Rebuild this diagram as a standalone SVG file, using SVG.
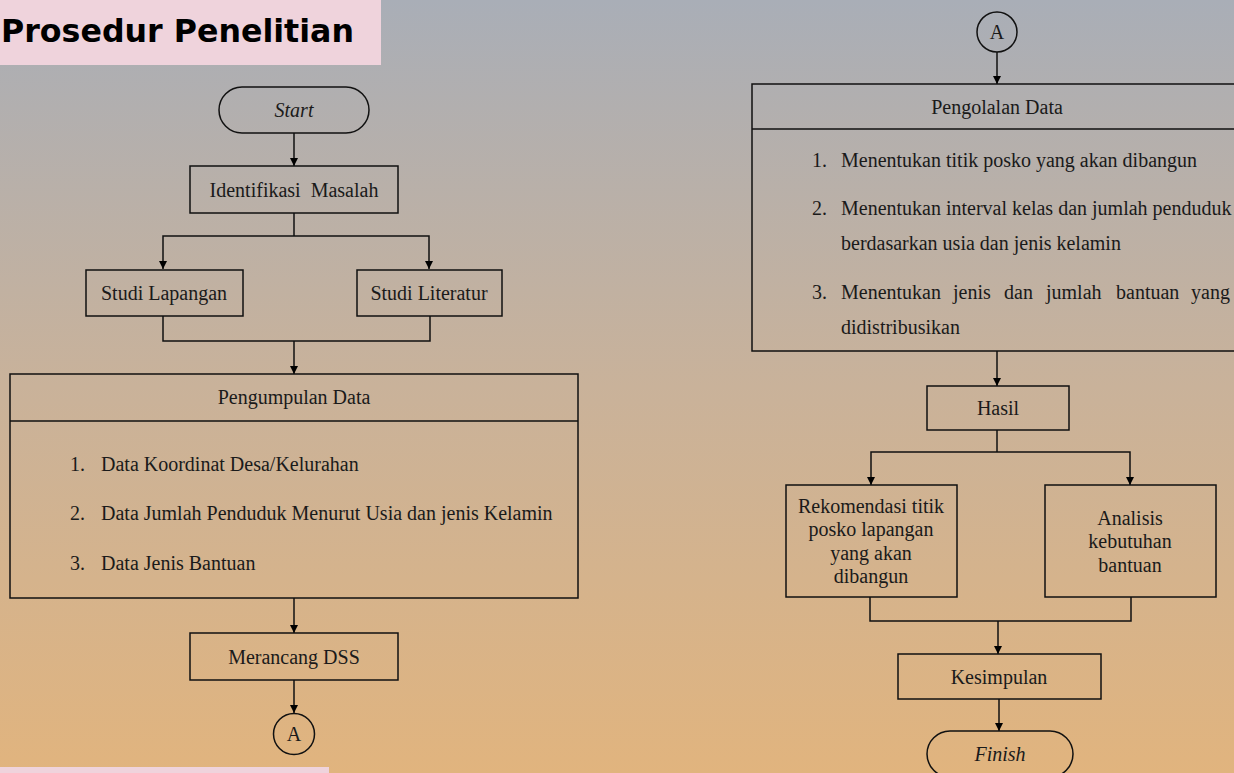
<svg xmlns="http://www.w3.org/2000/svg" width="1234" height="773" viewBox="0 0 1234 773">
<defs>
<linearGradient id="bg" x1="0" y1="0" x2="0" y2="1">
<stop offset="0" stop-color="#a9aeb7"/>
<stop offset="0.5" stop-color="#c9b29a"/>
<stop offset="1" stop-color="#e1b47e"/>
</linearGradient>
<marker id="ah" viewBox="0 0 10 10" refX="10" refY="5" markerWidth="8" markerHeight="8" markerUnits="userSpaceOnUse" orient="auto">
<path d="M0,0 L10,5 L0,10 Z" fill="#000"/>
</marker>
<style>
.box{fill:none;stroke:#111;stroke-width:1.5}
.t{font-family:"Liberation Serif","Times New Roman",serif;font-size:20px;fill:#1a1a1a}
.c{text-anchor:middle}
.i{font-style:italic}
.ln{fill:none;stroke:#111;stroke-width:1.5}
.ar{fill:none;stroke:#111;stroke-width:1.5;marker-end:url(#ah)}
</style>
</defs>
<rect x="0" y="0" width="1234" height="773" fill="url(#bg)"/>
<g id="title">
<rect x="0" y="0" width="381" height="65" fill="#efd3dc"/>
<text x="1" y="42" font-family="'DejaVu Sans',Tahoma,sans-serif" font-weight="bold" font-size="32" fill="#000" textLength="353" lengthAdjust="spacingAndGlyphs">Prosedur Penelitian</text>
</g>
<rect x="0" y="767" width="329" height="6" fill="#efd3dc"/>

<g id="connectors">
<line class="ar" x1="294" y1="133" x2="294" y2="166"/>
<polyline class="ln" points="294,213 294,236"/>
<polyline class="ar" points="294,236 163,236 163,269"/>
<polyline class="ar" points="294,236 429,236 429,269"/>
<polyline class="ln" points="163,316 163,341 430,341 430,316"/>
<line class="ar" x1="294" y1="341" x2="294" y2="374"/>
<line class="ar" x1="294" y1="598" x2="294" y2="633"/>
<line class="ar" x1="294" y1="680" x2="294" y2="713"/>
<line class="ar" x1="997" y1="52" x2="997" y2="84"/>
<line class="ar" x1="997" y1="351" x2="997" y2="386"/>
<polyline class="ln" points="997,430 997,452"/>
<polyline class="ar" points="997,452 871,452 871,485"/>
<polyline class="ar" points="997,452 1130,452 1130,485"/>
<polyline class="ln" points="870,597 870,621 1131,621 1131,597"/>
<line class="ar" x1="998" y1="621" x2="998" y2="654"/>
<line class="ar" x1="999" y1="699" x2="999" y2="731"/>
</g>

<g id="start">
<rect class="box" x="219" y="87" width="150" height="46" rx="23"/>
<text class="t c i" x="294" y="117">Start</text>
</g>
<g id="identifikasi">
<rect class="box" x="190" y="166" width="208" height="47"/>
<text class="t c" x="294" y="197" style="white-space:pre">Identifikasi  Masalah</text>
</g>
<g id="studi-lapangan">
<rect class="box" x="86" y="270" width="157" height="46"/>
<text class="t c" x="164" y="300">Studi Lapangan</text>
</g>
<g id="studi-literatur">
<rect class="box" x="357" y="270" width="145" height="46"/>
<text class="t c" x="429" y="300">Studi Literatur</text>
</g>
<g id="pengumpulan">
<rect class="box" x="10" y="374" width="568" height="224"/>
<line class="ln" x1="10" y1="421" x2="578" y2="421"/>
<text class="t c" x="294" y="404">Pengumpulan Data</text>
<text class="t" x="70" y="471">1.</text>
<text class="t" x="101" y="471">Data Koordinat Desa/Kelurahan</text>
<text class="t" x="70" y="520">2.</text>
<text class="t" x="101" y="520">Data Jumlah Penduduk Menurut Usia  dan jenis Kelamin</text>
<text class="t" x="70" y="570">3.</text>
<text class="t" x="101" y="570">Data Jenis Bantuan</text>
</g>
<g id="merancang">
<rect class="box" x="190" y="633" width="208" height="47"/>
<text class="t c" x="294" y="664">Merancang DSS</text>
</g>
<g id="conn-a-left">
<circle class="box" cx="294" cy="734" r="20.5"/>
<text class="t c" x="294" y="741">A</text>
</g>

<g id="conn-a-right">
<circle class="box" cx="997" cy="32" r="20"/>
<text class="t c" x="997" y="39">A</text>
</g>
<g id="pengolalan">
<rect class="box" x="752" y="84" width="490" height="267"/>
<line class="ln" x1="752" y1="129" x2="1242" y2="129"/>
<text class="t c" x="997" y="114">Pengolalan Data</text>
<text class="t" x="812" y="167">1.</text>
<text class="t" x="841" y="167">Menentukan titik posko yang akan dibangun</text>
<text class="t" x="812" y="215">2.</text>
<text class="t" x="841" y="215">Menentukan interval kelas dan jumlah penduduk</text>
<text class="t" x="841" y="250">berdasarkan usia dan jenis kelamin</text>
<text class="t" x="812" y="299">3.</text>
<text class="t" y="299"><tspan x="841">Menentukan</tspan><tspan x="953">jenis</tspan><tspan x="1004">dan</tspan><tspan x="1046">jumlah</tspan><tspan x="1116">bantuan</tspan><tspan x="1191">yang</tspan></text>
<text class="t" x="841" y="334">didistribusikan</text>
</g>
<g id="hasil">
<rect class="box" x="927" y="386" width="142" height="44"/>
<text class="t c" x="998" y="415">Hasil</text>
</g>
<g id="rekomendasi">
<rect class="box" x="786" y="485" width="171" height="112"/>
<text class="t c" x="871" y="513">Rekomendasi titik</text>
<text class="t c" x="871" y="536">posko lapangan</text>
<text class="t c" x="871" y="560">yang akan</text>
<text class="t c" x="871" y="583">dibangun</text>
</g>
<g id="analisis">
<rect class="box" x="1045" y="485" width="171" height="112"/>
<text class="t c" x="1130" y="525">Analisis</text>
<text class="t c" x="1130" y="548">kebutuhan</text>
<text class="t c" x="1130" y="572">bantuan</text>
</g>
<g id="kesimpulan">
<rect class="box" x="898" y="654" width="203" height="45"/>
<text class="t c" x="999" y="684">Kesimpulan</text>
</g>
<g id="finish">
<rect class="box" x="927" y="731" width="146" height="46" rx="23"/>
<text class="t c i" x="1000" y="761">Finish</text>
</g>
</svg>
